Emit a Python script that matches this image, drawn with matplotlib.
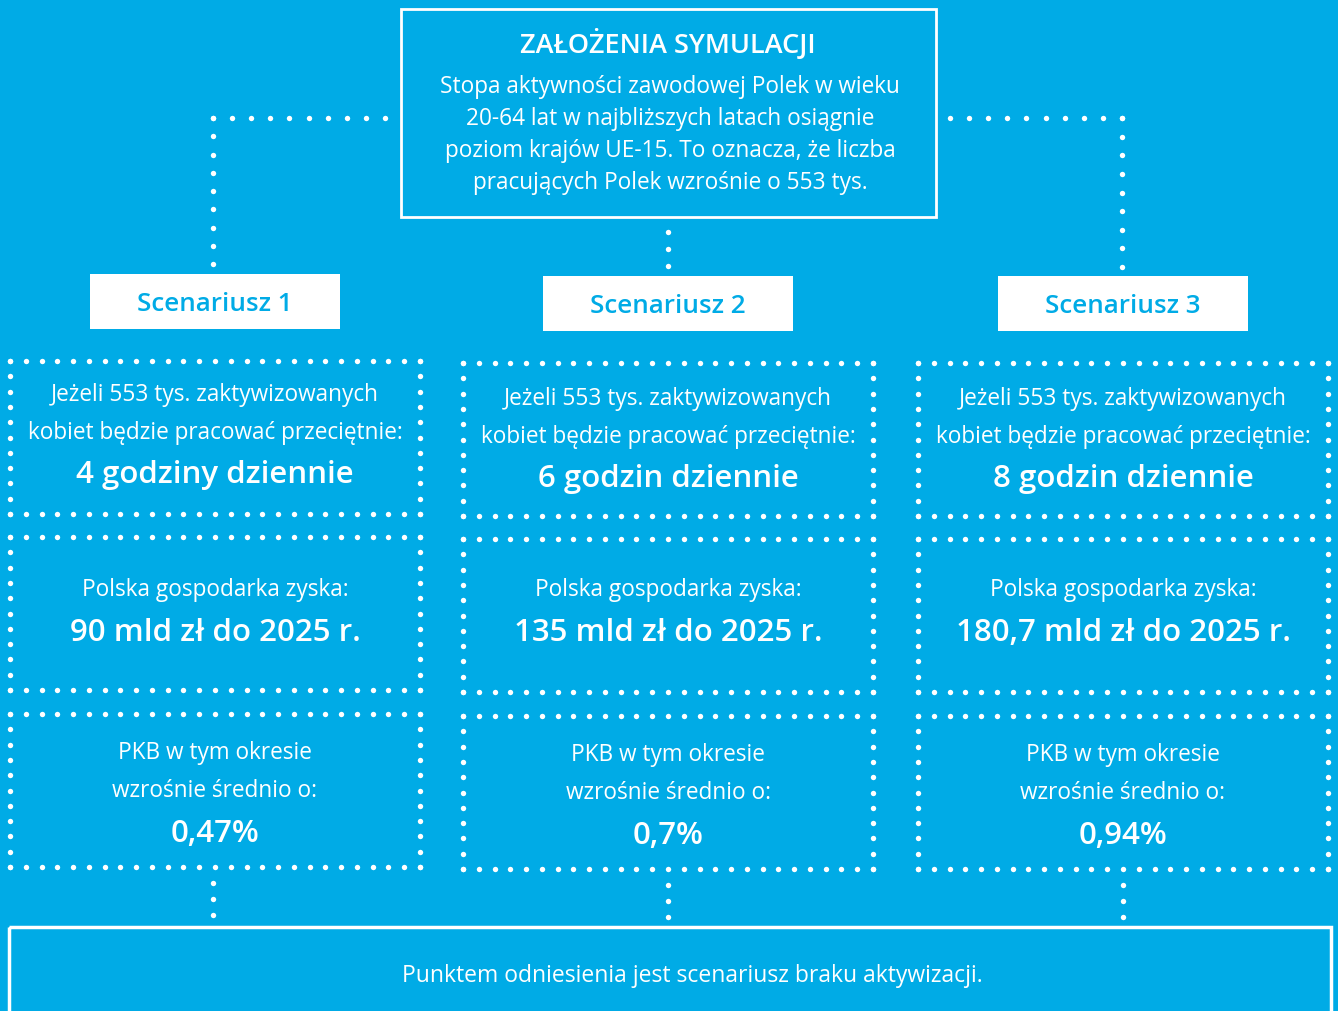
import numpy as np
import matplotlib.pyplot as plt
from matplotlib.patches import Rectangle

plt.rcParams['font.family'] = ['Open Sans', 'DejaVu Sans']

BG = '#00abe6'
WHITE = 'white'

title = "ZAŁOŻENIA SYMULACJI"
intro = ["Stopa aktywności zawodowej Polek w wieku",
         "20-64 lat w najbliższych latach osiągnie",
         "poziom krajów UE-15. To oznacza, że liczba",
         "pracujących Polek wzrośnie o 553 tys."]
scenarios = ["Scenariusz 1", "Scenariusz 2", "Scenariusz 3"]
hours = ["4 godziny dziennie", "6 godzin dziennie", "8 godzin dziennie"]
gains = ["90 mld zł do 2025 r.", "135 mld zł do 2025 r.", "180,7 mld zł do 2025 r."]
pkb = ["0,47%", "0,7%", "0,94%"]
footer = "Punktem odniesienia jest scenariusz braku aktywizacji."

# layout (pixels)
col_x = [215, 668, 1123]
box_dy = [-2, 0, 0]      # small offsets of the first column in the original
text1_dy = [-4, 0, 0]
text3_dy = [-2, 0, 0]
box_w = 410
BODY = 16.3
BIG = 22.5
T = 2  # text baseline correction


def dots_line(ax, x0, y0, x1, y1, step=16, s=15):
    n = max(int(round(np.hypot(x1 - x0, y1 - y0) / step)), 1)
    xs = np.linspace(x0, x1, n + 1)
    ys = np.linspace(y0, y1, n + 1)
    ax.scatter(xs, ys, s=s, color=WHITE, linewidths=0, zorder=3)


def dotted_box(ax, x0, y0, x1, y1):
    dots_line(ax, x0, y0, x1, y0)
    dots_line(ax, x0, y1, x1, y1)
    dots_line(ax, x0, y0, x0, y1)
    dots_line(ax, x1, y0, x1, y1)


def label(ax, x, y, s, size=BODY, weight='normal', color=WHITE):
    ax.text(x, y + T, s, ha='center', va='center', color=color,
            fontsize=size, fontweight=weight)


fig = plt.figure(figsize=(13.38, 10.12), dpi=100)
fig.patch.set_facecolor(BG)
ax = fig.add_axes([0, 0, 1, 1])
ax.set_xlim(0, 1338)
ax.set_ylim(1012, 0)
ax.axis('off')
ax.set_facecolor(BG)

# top box
ax.add_patch(Rectangle((401, 10), 535, 208, fill=False, edgecolor=WHITE, lw=2))
label(ax, 668, 42, title, size=19.5, weight='semibold')
for i, line in enumerate(intro):
    label(ax, 670, 85 + 32 * i, line)

# connectors from top box
dots_line(ax, 213, 119, 385, 119, step=19)
dots_line(ax, 213, 119, 213, 265, step=18)
dots_line(ax, 950, 119, 1122, 119, step=19)
dots_line(ax, 1122, 119, 1122, 268, step=18)
dots_line(ax, 668, 233, 668, 267, step=17)

for c in range(3):
    cx = col_x[c]
    dy = box_dy[c]
    # scenario label
    ax.add_patch(Rectangle((cx - 125, 277 + dy), 250, 55, facecolor=WHITE,
                           edgecolor='none'))
    label(ax, cx, 304 + dy, scenarios[c], size=18.7, weight='semibold', color=BG)

    x0, x1 = cx - box_w / 2, cx + box_w / 2
    # box 1
    dotted_box(ax, x0, 364 + dy, x1, 517 + dy)
    label(ax, cx, 397 + text1_dy[c], "Jeżeli 553 tys. zaktywizowanych")
    label(ax, cx, 435 + text1_dy[c], "kobiet będzie pracować przeciętnie:")
    label(ax, cx, 477 + text1_dy[c], hours[c], size=BIG, weight='semibold')
    # box 2
    dotted_box(ax, x0, 540 + dy, x1, 693 + dy)
    label(ax, cx, 588, "Polska gospodarka zyska:")
    label(ax, cx, 631, gains[c], size=BIG, weight='semibold')
    # box 3
    dotted_box(ax, x0, 717 + dy, x1, 870 + dy)
    label(ax, cx, 753 + text3_dy[c], "PKB w tym okresie")
    label(ax, cx, 791 + text3_dy[c], "wzrośnie średnio o:")
    label(ax, cx, 834 + text3_dy[c], pkb[c], size=BIG, weight='semibold')
    # connector down
    lx = cx - 2 if c == 0 else cx
    dots_line(ax, lx, 886 + dy, lx, 918 + dy, step=16)

# bottom box
ax.add_patch(Rectangle((9, 928), 1322, 120, fill=False, edgecolor=WHITE, lw=2.5))
label(ax, 692, 974, footer, size=16.5)

fig.savefig('out.png', dpi=100, facecolor=BG)
